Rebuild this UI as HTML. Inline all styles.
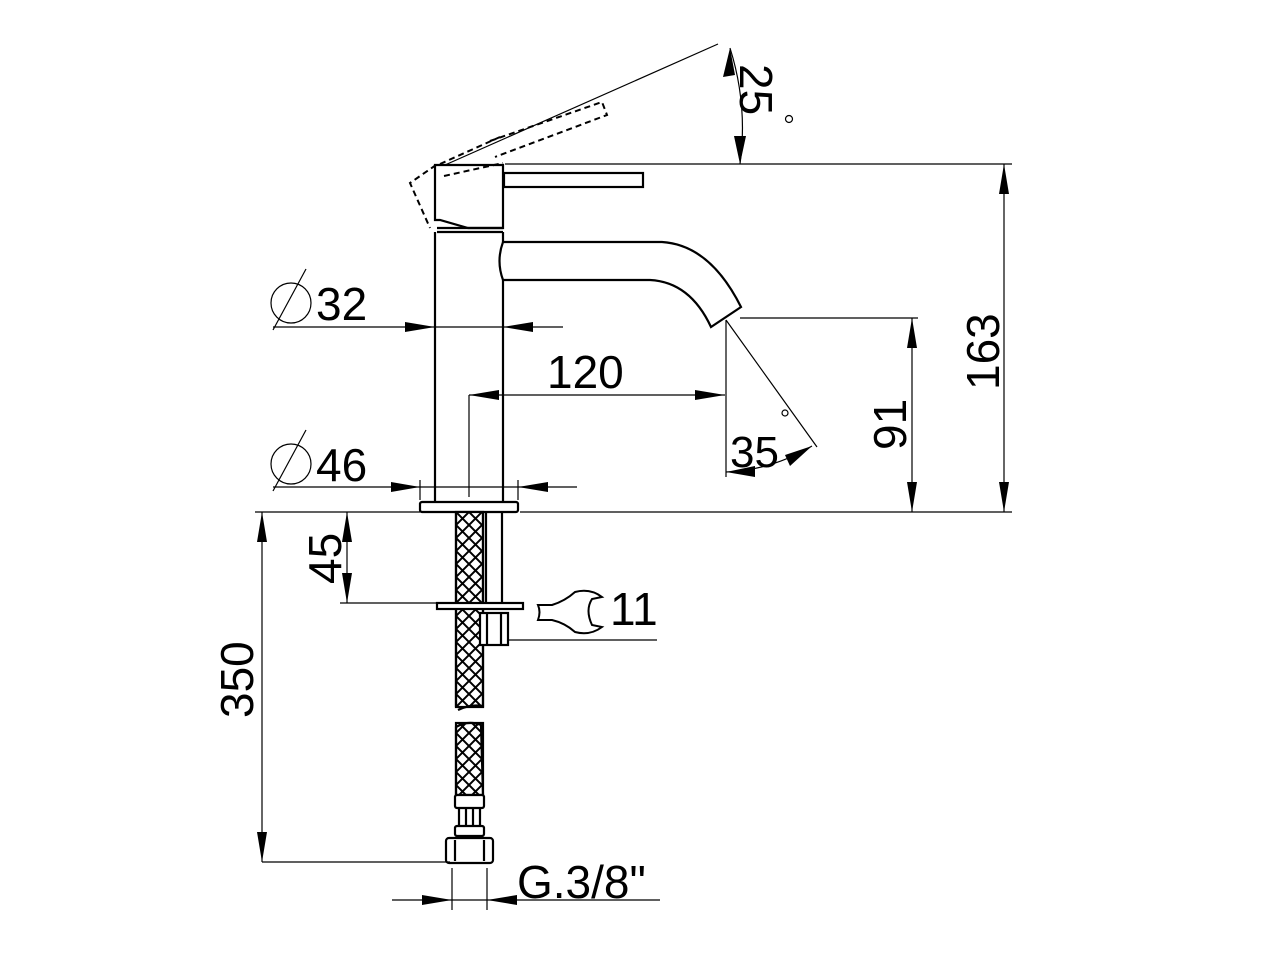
<!DOCTYPE html>
<html><head><meta charset="utf-8"><style>
html,body{margin:0;padding:0;background:#fff}
svg{display:block}
text{font-family:"Liberation Sans",Arial,sans-serif;fill:#000}
</style></head><body>
<svg width="1280" height="960" viewBox="0 0 1280 960" xmlns="http://www.w3.org/2000/svg">
<defs>
<pattern id="mesh" width="13" height="13" patternUnits="userSpaceOnUse" x="456" y="512">
<rect width="13" height="13" fill="#fff"/>
<path d="M0 0L13 13M13 0L0 13" stroke="#000" stroke-width="2"/>
</pattern>
</defs>
<g fill="none" stroke="#000" stroke-width="2.2">
<path d="M435 165 L503 165 L503 228 L468 228 L440 220 L435 220 Z" fill="#fff"/>
<rect x="504" y="173" width="139" height="14" fill="#fff"/>
<path d="M437 228 L503 228 M437 232 L503 232"/>
<path d="M435 232 L435 512 M503 232 L503 242 M503 280 L503 512"/>
<path d="M503 242 Q496 261 503 280"/>
<path d="M503 242 L662 242 Q710 245 741 307 L711 327 Q690 282 650 280 L503 280"/>
<rect x="420" y="502" width="98" height="10" rx="2" fill="#fff"/>
<rect x="456" y="512" width="27" height="195" fill="url(#mesh)"/>
<path d="M456 512 L456 707 M483 512 L483 706 Q470 704 458 710"/>
<rect x="456" y="723" width="27" height="72" fill="url(#mesh)"/>
<path d="M456 795 L456 727 Q468 720 481 725 L483 795"/>
<path d="M486 512 L486 603 M502 512 L502 603"/>
<rect x="437" y="603" width="86" height="6" fill="#fff"/>
<rect x="480" y="613" width="28" height="32" fill="#fff"/>
<path d="M487 613 L487 645 M501 613 L501 645"/>
<rect x="455" y="795" width="29" height="13" rx="2" fill="#fff"/>
<path d="M459 808 L459 828 M480 808 L480 828 M466 808 L466 828 M473 808 L473 828"/>
<rect x="455" y="826" width="29" height="10" rx="2" fill="#fff"/>
<rect x="446" y="838" width="47" height="25" rx="3" fill="#fff"/>
<path d="M455 840 L455 861 M484 840 L484 861"/>
</g>
<g fill="none" stroke="#000" stroke-width="2" stroke-dasharray="6,4">
<path d="M436 165 L410 183 L430 228 M440 164 L500 137 M444 176 L503 163 M490 141 L602 102 L607 115 L495 157"/>
</g>
<g fill="none" stroke="#000" stroke-width="1.2">
<path d="M445 165 L718 44"/>
<path d="M505 164 L1012 164"/>
<path d="M730 48 Q748 105 740 164"/>
<path d="M520 512 L1012 512 M255 512 L420 512"/>
<path d="M1004 164 L1004 512"/>
<path d="M740 318 L918 318 M912 318 L912 512"/>
<path d="M726 320 L726 477 M726 320 L817 447"/>
<path d="M726 472 Q772 470 812 446"/>
<path d="M273 327 L563 327"/>
<path d="M273 487 L577 487 M420 480 L420 500 M518 480 L518 500"/>
<path d="M469 395 L725 395 M469 395 L469 497"/>
<path d="M262 512 L262 862 M262 862 L450 862"/>
<path d="M347 512 L347 603 M340 603 L437 603"/>
<path d="M508 640 L657 640"/>
<path d="M392 900 L660 900 M452 868 L452 910 M487 868 L487 910"/>
<circle cx="291" cy="303" r="20"/><path d="M273 330 L306 269"/>
<circle cx="291" cy="464" r="20"/><path d="M273 491 L306 430"/>
</g>
<g fill="#000">
<polygon points="435,327 405,322 405,332"/>
<polygon points="503,327 533,322 533,332"/>
<polygon points="420,487 391,482 391,492"/>
<polygon points="518,487 548,482 548,492"/>
<polygon points="469,395 499,390 499,400"/>
<polygon points="725,395 695,390 695,400"/>
<polygon points="1004,164 999,194 1009,194"/>
<polygon points="1004,512 999,482 1009,482"/>
<polygon points="912,318 907,348 917,348"/>
<polygon points="912,512 907,482 917,482"/>
<polygon points="262,512 257,542 267,542"/>
<polygon points="262,862 257,832 267,832"/>
<polygon points="347,512 342,542 352,542"/>
<polygon points="347,603 342,573 352,573"/>
<polygon points="452,900 422,895 422,905"/>
<polygon points="487,900 517,895 517,905"/>
<polygon points="730,48 723,77 735,75"/>
<polygon points="740,164 734,136 746,136"/>
<polygon points="726,472 755,466 755,477"/>
<polygon points="812,446 785,455 790,466"/>
</g>
<path d="M538 605 L552 605 Q565 601 575 592 Q590 588 602 597 L592 599 Q585 610 592 625 L602 627 Q590 636 575 632 Q565 623 552 620 L538 620 Q541 612 538 605 Z" fill="#fff" stroke="#000" stroke-width="2"/>
<g font-size="46">
<text x="316" y="320">32</text>
<text x="316" y="481">46</text>
<text x="547" y="388">120</text>
<text x="610" y="625">11</text>
<text x="517" y="898">G.3/8"</text>
<text x="730" y="467" font-size="44">35</text>
<text transform="translate(906,450) rotate(-90)">91</text>
<text transform="translate(999,390) rotate(-90)">163</text>
<text transform="translate(341,584) rotate(-90)">45</text>
<text transform="translate(253,718) rotate(-90)">350</text>
<text transform="translate(740,64) rotate(90)">25</text>
</g>
<circle cx="785" cy="413" r="3" fill="none" stroke="#000" stroke-width="1.2"/>
<circle cx="789" cy="119" r="3.5" fill="none" stroke="#000" stroke-width="1.2"/>
</svg>
</body></html>
